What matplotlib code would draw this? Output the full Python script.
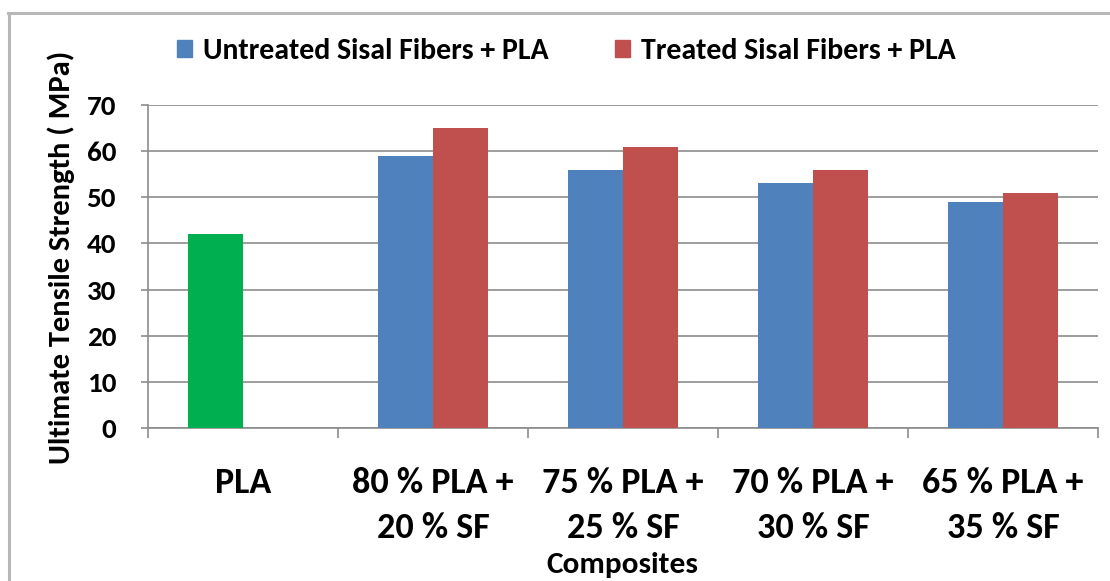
import numpy as np
import matplotlib
matplotlib.use("Agg")
import matplotlib.pyplot as plt
from matplotlib import font_manager
from matplotlib.patches import Patch
from matplotlib.lines import Line2D

# ---- data -------------------------------------------------------------
categories = ["PLA", "80 % PLA +\n20 % SF", "75 % PLA +\n25 % SF",
              "70 % PLA +\n30 % SF", "65 % PLA +\n35 % SF"]
untreated = [42, 59, 56, 53, 49]
treated = [np.nan, 65, 61, 56, 51]
series_names = ["Untreated Sisal Fibers + PLA", "Treated Sisal Fibers + PLA"]
y_ticks = [0, 10, 20, 30, 40, 50, 60, 70]

# ---- style ------------------------------------------------------------
available = {f.name for f in font_manager.fontManager.ttflist}
family = next((f for f in ["Carlito", "Lato", "DejaVu Sans"] if f in available))
plt.rcParams["font.family"] = [family, "DejaVu Sans"]
plt.rcParams["font.weight"] = "bold"

BLUE = "#4F81BD"
RED = "#C0504D"
GREEN = "#00B050"
GRID = "#8C8C8C"

W, H = 1110, 581
fig = plt.figure(figsize=(W / 100, H / 100), dpi=100)
fig.patch.set_facecolor("white")

ax = fig.add_axes([148 / W, (H - 428) / H, 950 / W, 323 / H])

x = np.arange(len(categories))
bw = 0.289
colors_u = [GREEN] + [BLUE] * (len(categories) - 1)
ax.bar(x - bw, untreated, width=bw, align="edge", color=colors_u, zorder=3)
ax.bar(x, treated, width=bw, align="edge", color=RED, zorder=3)

ax.set_xlim(-0.5, len(categories) - 0.5)
ax.set_ylim(0, 70)
ax.set_yticks(y_ticks)
ax.set_yticklabels([str(v) for v in y_ticks])
ax.yaxis.grid(True, color=GRID, linewidth=1.2, zorder=0)

# category boundaries carry the tick marks, labels sit at the centres
ax.set_xticks(np.arange(-0.5, len(categories), 1.0))
ax.set_xticklabels([])
ax.set_xticks(x, minor=True)
ax.set_xticklabels(categories, minor=True, fontsize=26, linespacing=1.5)
ax.tick_params(axis="x", which="major", length=7, width=1.2, color=GRID,
               direction="out")
ax.tick_params(axis="x", which="minor", length=0, pad=28)
ax.tick_params(axis="y", length=5, width=1.2, color=GRID, direction="out",
               pad=18, labelsize=21)

for s in ["top", "right"]:
    ax.spines[s].set_visible(False)
for s in ["left", "bottom"]:
    ax.spines[s].set_color(GRID)
    ax.spines[s].set_linewidth(1.2)

fig.text(61 / W, 1 - 257 / H, "Ultimate Tensile Strength ( MPa)",
         rotation=90, ha="center", va="center", fontsize=22)
fig.text(622 / W, 1 - 565 / H, "Composites", ha="center", va="center",
         fontsize=22.5)

handles = [Patch(color=BLUE), Patch(color=RED)]
fig.legend(handles, series_names, ncol=2, frameon=False, fontsize=21.5,
           loc="center left", bbox_to_anchor=(177 / W, 1 - 51 / H),
           borderpad=0, borderaxespad=0, handlelength=0.5, handleheight=0.5,
           handletextpad=0.36, columnspacing=2.25)

# outer chart frame
frame_c = "#B8B8B8"
fig.add_artist(Line2D([8 / W, 1.0], [1 - 12.5 / H, 1 - 12.5 / H],
                      transform=fig.transFigure, color=frame_c, linewidth=2.2))
fig.add_artist(Line2D([9 / W, 9 / W], [0, 1 - 12.5 / H],
                      transform=fig.transFigure, color=frame_c, linewidth=2.2))

fig.savefig("out.png", dpi=100)
